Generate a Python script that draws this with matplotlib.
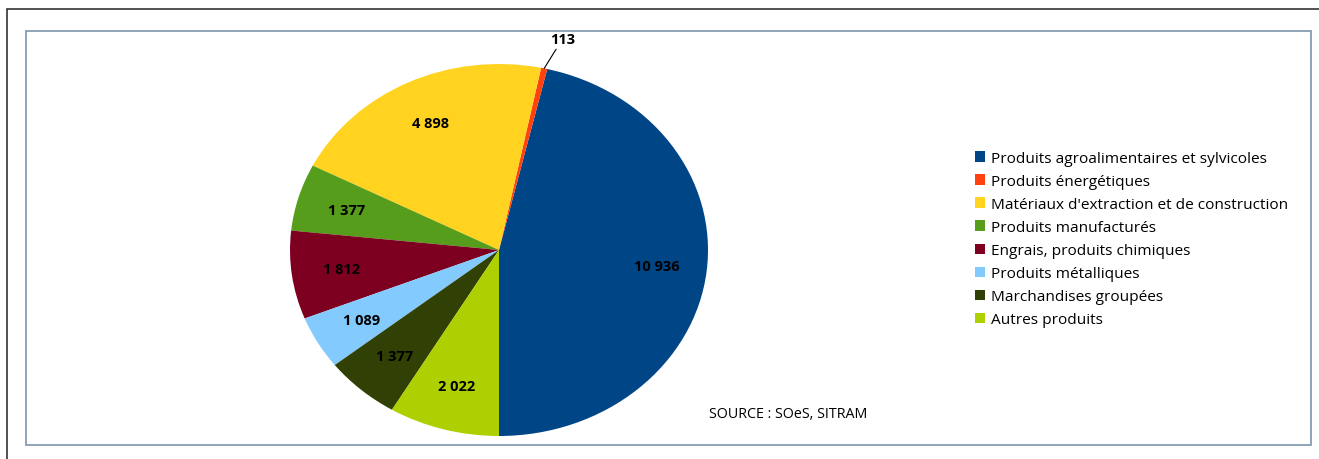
import numpy as np
import matplotlib.pyplot as plt
from matplotlib.patches import Rectangle, Patch

plt.rcParams['font.family'] = ['Open Sans', 'DejaVu Sans']

# Tonnage by product group (SITRAM)
categories = ["Produits agroalimentaires et sylvicoles",
              "Produits énergétiques",
              "Matériaux d'extraction et de construction",
              "Produits manufacturés",
              "Engrais, produits chimiques",
              "Produits métalliques",
              "Marchandises groupées",
              "Autres produits"]
values = [10936, 113, 4898, 1377, 1812, 1089, 1377, 2022]
colors = ['#004586', '#ff420e', '#ffd320', '#579d1c',
          '#7e0021', '#83caff', '#314004', '#aecf00']


def fmt(v):
    # French thousands separator
    return f"{v:,}".replace(",", " ")


W, H = 1319, 460
fig = plt.figure(figsize=(W / 100, H / 100), dpi=100)

# outer and inner frames
fig.add_artist(Rectangle((7 / W, -0.1), 1.2, (H - 10) / H + 0.1, transform=fig.transFigure,
                         fill=False, edgecolor='#333333', linewidth=1.2))
fig.add_artist(Rectangle((26 / W, (H - 446) / H), (1311 - 26) / W, (446 - 32) / H,
                         transform=fig.transFigure, fill=False,
                         edgecolor='#7d93ab', linewidth=1.2))

# pie axes (stretched, so the pie is drawn as an ellipse)
ax = fig.add_axes([290 / W, (H - 437) / H, 418 / W, 372 / H])
wedges, _, autotexts = ax.pie(values, colors=colors, startangle=-90, counterclock=True,
                              autopct='%1.1f', pctdistance=0.76,
                              wedgeprops=dict(linewidth=0))
ax.set_aspect('auto')
ax.set_xlim(-1, 1)
ax.set_ylim(-1, 1)
ax.axis('off')

for t, v in zip(autotexts, values):
    t.set_text(fmt(v))
    t.set_fontsize(10.5)
    t.set_fontweight('bold')
    t.set_color('black')

# the smallest slice gets an outside label with a leader line
small = 1
autotexts[small].set_visible(False)
w = wedges[small]
mid = np.deg2rad((w.theta1 + w.theta2) / 2)
ax.annotate(fmt(values[small]), xy=(np.cos(mid), np.sin(mid)),
            xytext=(18, 22), textcoords='offset pixels',
            ha='center', va='bottom', fontsize=10.5, fontweight='bold',
            arrowprops=dict(arrowstyle='-', color='black', lw=0.8,
                            shrinkA=0, shrinkB=0),
            annotation_clip=False)

handles = [Patch(facecolor=c, edgecolor='none') for c in colors]
fig.legend(handles, categories, loc='upper left',
           bbox_to_anchor=(975 / W, (H - 152) / H), frameon=False,
           fontsize=11.1, handlelength=0.65, handleheight=0.65, handletextpad=0.4,
           labelspacing=0.52, borderpad=0, borderaxespad=0)

fig.text(709 / W, (H - 415) / H, "SOURCE : SOeS, SITRAM", fontsize=10.3,
         ha='left', va='center')

fig.savefig('out.png', dpi=100)
